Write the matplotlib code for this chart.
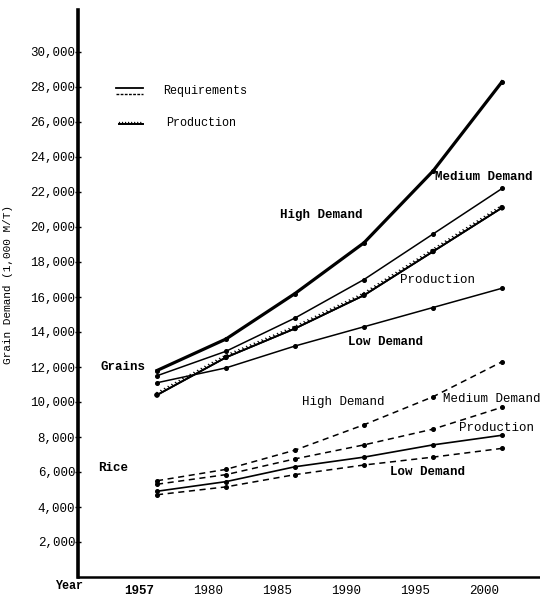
import numpy as np
import matplotlib
matplotlib.use("Agg")
import matplotlib.pyplot as plt
import matplotlib.patheffects as pe
import matplotlib.transforms as mtrans

# ---------------- data ----------------
years = ["1957", "1980", "1985", "1990", "1995", "2000"]

grain_high = [11800, 13600, 16200, 19100, 23200, 28300]
grain_medium = [11500, 12900, 14800, 17000, 19600, 22200]
grain_production = [10400, 12550, 14200, 16100, 18600, 21100]
grain_low = [11100, 11950, 13200, 14300, 15400, 16500]

rice_high = [5500, 6150, 7250, 8700, 10300, 12300]
rice_medium = [5300, 5850, 6750, 7550, 8450, 9700]
rice_production = [4900, 5450, 6300, 6850, 7550, 8100]
rice_low = [4700, 5150, 5850, 6400, 6850, 7350]

y_ticks = list(range(2000, 30001, 2000))
y_tick_labels = [f"{v:,}" for v in y_ticks]

# ---------------- figure ----------------
plt.rcParams['font.family'] = ['Liberation Mono', 'DejaVu Sans Mono']
fig = plt.figure(figsize=(5.40, 5.98), dpi=100)
ax = fig.add_axes([78/540, 21/598, (540-78)/540, (577-10)/598])

x = np.arange(len(years))
ms = 2.6

ax.plot(x, grain_high, color='black', lw=2.3, marker='o', ms=ms)
ax.plot(x, grain_medium, color='black', lw=1.1, marker='o', ms=ms)
ax.plot(x, grain_production, color='black', lw=1.3, marker='o', ms=ms,
        path_effects=[pe.Stroke(linewidth=1.3, foreground='black'),
                      pe.withTickedStroke(spacing=3, angle=110, length=0.6, linewidth=0.8)])
ax.plot(x, grain_low, color='black', lw=1.1, marker='o', ms=ms)

dash = (0, (4, 3))
ax.plot(x, rice_high, color='black', lw=1.1, ls=dash, marker='o', ms=ms)
ax.plot(x, rice_medium, color='black', lw=1.1, ls=dash, marker='o', ms=ms)
ax.plot(x, rice_production, color='black', lw=1.2, marker='o', ms=ms)
ax.plot(x, rice_low, color='black', lw=1.1, ls=dash, marker='o', ms=ms)

ax.set_xlim(-1.145, 5.55)
ax.set_ylim(0, 32400)

ax.set_yticks(y_ticks)
ax.set_yticklabels(y_tick_labels, fontsize=9)
ax.set_xticks(x)
ax.set_xticklabels(years, fontsize=9)
ax.tick_params(axis='y', direction='inout', length=4, width=1, pad=0)
ax.tick_params(axis='x', length=0, pad=6)
off = mtrans.ScaledTranslation(-0.18, 0, fig.dpi_scale_trans)
for lab in ax.get_xticklabels():
    lab.set_transform(lab.get_transform() + off)
ax.get_xticklabels()[0].set_fontweight('bold')

for s in ['top', 'right']:
    ax.spines[s].set_visible(False)
ax.spines['left'].set_linewidth(2.6)
ax.spines['bottom'].set_linewidth(1.8)

# ---------------- annotations ----------------
def t(xv, yv, s, bold=False, size=9):
    ax.text(xv, yv, s, fontsize=size, va='center', ha='left',
            fontweight='bold' if bold else 'normal')

t(1.78, 20700, "High Demand", bold=True)
t(4.03, 22860, "Medium Demand", bold=True)
t(3.52, 16970, "Production")
t(2.77, 13430, "Low Demand", bold=True)
t(-0.82, 12000, "Grains", bold=True)

t(2.10, 10000, "High Demand")
t(4.14, 10170, "Medium Demand")
t(4.38, 8510, "Production")
t(3.38, 6000, "Low Demand", bold=True)
t(-0.85, 6230, "Rice", bold=True)

ax.text(-1.48, -500, "Year", fontsize=8.5, fontweight='bold', ha='left', va='center', clip_on=False)

# legend drawn by hand
ax.plot([0.083, 0.14], [0.862, 0.862], transform=ax.transAxes, color='black', lw=1.3)
ax.plot([0.083, 0.14], [0.852, 0.852], transform=ax.transAxes, color='black', lw=1.0, ls=(0, (2, 1)))
ax.text(0.185, 0.858, "Requirements", transform=ax.transAxes, fontsize=8.5, va='center', ha='left')
ax.plot([0.088, 0.14], [0.799, 0.799], transform=ax.transAxes, color='black', lw=1.3,
        path_effects=[pe.Stroke(linewidth=1.3, foreground='black'),
                      pe.withTickedStroke(spacing=2, angle=110, length=0.6, linewidth=0.8)])
ax.text(0.19, 0.801, "Production", transform=ax.transAxes, fontsize=8.5, va='center', ha='left')

fig.text(8/540, 1-285/598, "Grain Demand (1,000 M/T)", rotation=90, fontsize=8,
         ha='center', va='center')

fig.savefig("out.png", dpi=100)
